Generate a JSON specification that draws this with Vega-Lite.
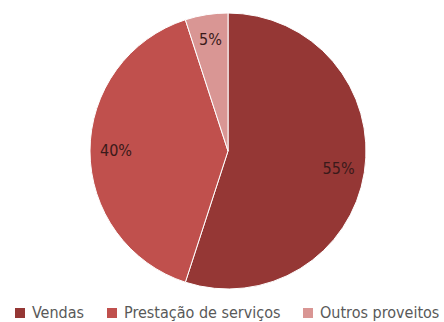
{
  "$schema": "https://vega.github.io/schema/vega-lite/v6.json",
  "width": 432,
  "height": 302,
  "autosize": {"type": "none"},
  "padding": {"left": 12, "top": 0, "right": 0, "bottom": 20},
  "background": "white",
  "data": {
    "values": [
      {"cat": "Vendas", "pct": 55, "label": "55%", "ord": 1},
      {"cat": "Prestação de serviços", "pct": 40, "label": "40%", "ord": 2},
      {"cat": "Outros proveitos", "pct": 5, "label": "5%", "ord": 3}
    ]
  },
  "encoding": {
    "theta": {"field": "pct", "type": "quantitative", "stack": true},
    "order": {"field": "ord", "type": "quantitative"},
    "color": {
      "field": "cat",
      "type": "nominal",
      "sort": ["Vendas", "Prestação de serviços", "Outros proveitos"],
      "scale": {
        "domain": ["Vendas", "Prestação de serviços", "Outros proveitos"],
        "range": ["#953735", "#C0504D", "#D99694"]
      },
      "legend": {
        "title": null,
        "orient": "bottom",
        "direction": "horizontal",
        "offset": 3,
        "padding": 0,
        "symbolType": "square",
        "symbolSize": 100,
        "symbolStrokeWidth": 0,
        "labelFont": "Liberation Sans Narrow, DejaVu Sans Condensed, sans-serif",
        "labelFontSize": 16,
        "labelColor": "#595959",
        "labelOffset": 4,
        "columnPadding": 19,
        "labelLimit": 300
      }
    }
  },
  "layer": [
    {
      "mark": {"type": "arc", "outerRadius": 138, "stroke": "white", "strokeWidth": 1}
    },
    {
      "mark": {
        "type": "text",
        "radius": 112,
        "font": "Liberation Sans Narrow, DejaVu Sans Condensed, sans-serif",
        "fontSize": 16,
        "color": "#3a1a1a"
      },
      "encoding": {
        "text": {"field": "label"},
        "color": {"value": "#3a1a1a"}
      }
    }
  ]
}
